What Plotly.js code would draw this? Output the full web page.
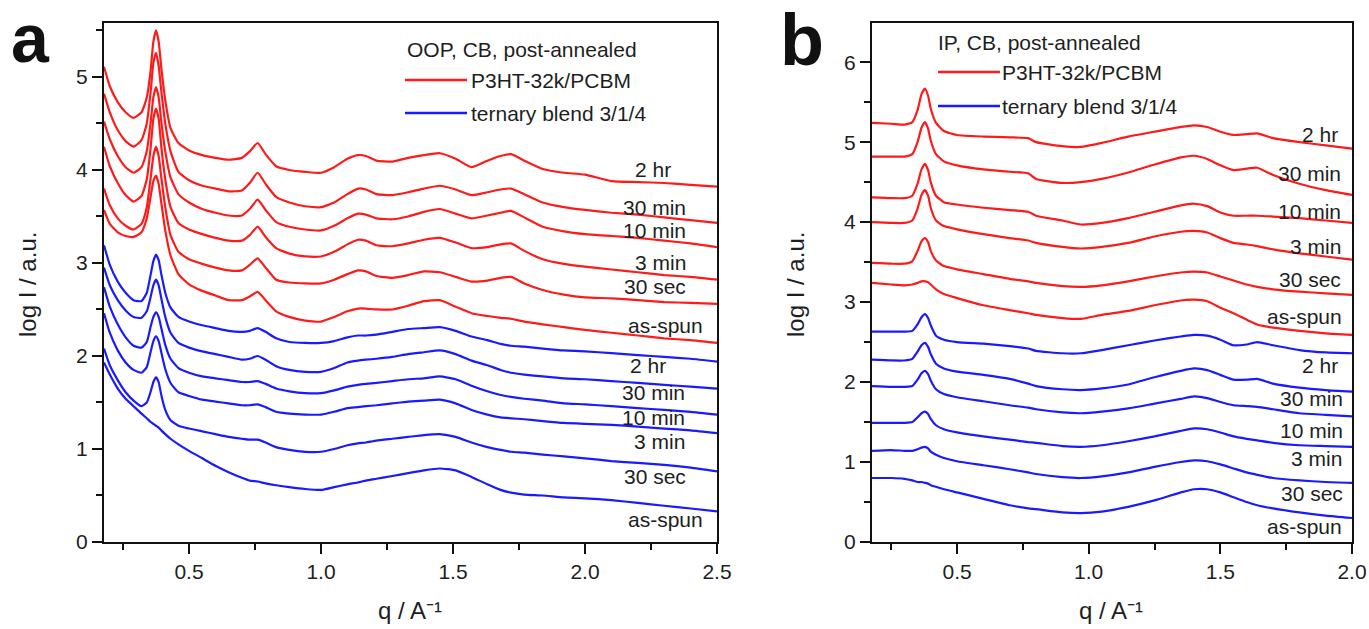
<!DOCTYPE html>
<html>
<head>
<meta charset="utf-8">
<script src="https://cdn.plot.ly/plotly-3.0.1.min.js"></script>
<style>html,body{margin:0;padding:0;background:#fff;}#chart{width:1369px;height:629px;}</style>
</head>
<body>
<div id="chart"></div>
<script>
// ---------------- DATA ----------------
const seriesNames = ["2 hr", "30 min", "10 min", "3 min", "30 sec", "as-spun"];

// Panel a (OOP) q grid
const qA = [0.178,0.20,0.23,0.26,0.29, 0.32,0.34,0.355,0.365,0.375, 0.385,0.395,0.41,0.43,0.46,
            0.50,0.55,0.60,0.65,0.70, 0.73,0.76,0.79,0.83,0.88, 0.94,1.00,1.05,1.10,1.14,
            1.17,1.21,1.27,1.33,1.39, 1.45,1.51,1.57,1.63,1.68, 1.72,1.77,1.84,1.92,2.00,
            2.10,2.20,2.30,2.40,2.50];

const aRed2hr    = [5.11,4.90,4.73,4.62,4.56, 4.62,4.78,5.08,5.38,5.50, 5.38,5.10,4.75,4.45,4.29, 4.21,4.16,4.13,4.11,4.13, 4.20,4.29,4.17,4.04,4.00, 3.98,3.97,4.03,4.12,4.16, 4.15,4.10,4.09,4.13,4.16, 4.18,4.12,4.03,4.10,4.15, 4.17,4.10,4.01,3.97,3.95, 3.88,3.87,3.86,3.84,3.82];
const aRed30min  = [4.82,4.62,4.43,4.31,4.25, 4.32,4.50,4.85,5.15,5.26, 5.12,4.85,4.50,4.20,3.98, 3.89,3.83,3.80,3.77,3.78, 3.86,3.97,3.85,3.71,3.65, 3.61,3.60,3.65,3.74,3.80, 3.79,3.74,3.73,3.76,3.80, 3.83,3.79,3.73,3.76,3.79, 3.80,3.74,3.65,3.60,3.57, 3.54,3.52,3.49,3.46,3.43];
const aRed10min  = [4.52,4.33,4.15,4.03,3.97, 4.03,4.20,4.52,4.78,4.89, 4.78,4.52,4.20,3.92,3.74, 3.65,3.58,3.54,3.51,3.51, 3.58,3.68,3.57,3.44,3.39, 3.36,3.35,3.40,3.48,3.53, 3.52,3.48,3.47,3.50,3.55, 3.58,3.53,3.48,3.51,3.54, 3.56,3.49,3.39,3.34,3.31, 3.29,3.27,3.24,3.21,3.17];
const aRed3min   = [4.25,4.04,3.86,3.73,3.66, 3.72,3.90,4.25,4.55,4.66, 4.55,4.25,3.90,3.60,3.43, 3.36,3.31,3.27,3.24,3.24, 3.30,3.39,3.28,3.16,3.10, 3.07,3.07,3.12,3.20,3.25, 3.24,3.19,3.18,3.21,3.25, 3.27,3.22,3.16,3.17,3.20, 3.21,3.13,3.04,2.99,2.96, 2.93,2.90,2.87,2.85,2.82];
const aRed30sec  = [3.80,3.62,3.48,3.40,3.36, 3.42,3.60,3.92,4.15,4.25, 4.15,3.92,3.60,3.30,3.12, 3.04,2.99,2.95,2.92,2.92, 2.98,3.05,2.95,2.82,2.79, 2.78,2.78,2.82,2.88,2.92, 2.91,2.86,2.84,2.87,2.91, 2.90,2.85,2.80,2.81,2.84, 2.85,2.78,2.71,2.66,2.63, 2.62,2.60,2.58,2.57,2.56];
const aRedAsSpun = [3.57,3.42,3.33,3.29,3.28, 3.33,3.48,3.72,3.88,3.94, 3.85,3.65,3.35,3.08,2.88, 2.77,2.70,2.65,2.60,2.60, 2.64,2.69,2.60,2.48,2.42, 2.38,2.37,2.42,2.48,2.51, 2.51,2.50,2.50,2.54,2.59, 2.60,2.53,2.46,2.43,2.41, 2.40,2.37,2.34,2.31,2.28, 2.25,2.22,2.19,2.17,2.14];

const aBlue2hr    = [3.19,2.98,2.80,2.68,2.60, 2.59,2.68,2.88,3.02,3.09, 3.03,2.88,2.68,2.52,2.42, 2.37,2.33,2.30,2.27,2.26, 2.27,2.30,2.26,2.19,2.15, 2.14,2.14,2.16,2.20,2.22, 2.22,2.23,2.26,2.29,2.30, 2.31,2.27,2.21,2.17,2.13, 2.11,2.10,2.08,2.06,2.05, 2.03,2.01,1.99,1.97,1.94];
const aBlue30min  = [2.95,2.76,2.60,2.49,2.42, 2.41,2.48,2.64,2.76,2.82, 2.76,2.62,2.42,2.25,2.14, 2.09,2.05,2.02,1.99,1.96, 1.97,2.00,1.96,1.89,1.85, 1.83,1.83,1.87,1.93,1.95, 1.96,1.97,1.99,2.02,2.04, 2.06,2.02,1.95,1.90,1.85, 1.82,1.80,1.78,1.76,1.75, 1.73,1.71,1.69,1.67,1.65];
const aBlue10min  = [2.74,2.53,2.34,2.20,2.11, 2.09,2.15,2.32,2.42,2.47, 2.42,2.30,2.12,1.97,1.87, 1.82,1.78,1.76,1.74,1.72, 1.72,1.73,1.70,1.65,1.62, 1.60,1.60,1.63,1.67,1.69, 1.70,1.71,1.73,1.75,1.76, 1.78,1.75,1.68,1.62,1.58, 1.56,1.54,1.52,1.49,1.48, 1.46,1.44,1.42,1.40,1.37];
const aBlue3min   = [2.46,2.25,2.06,1.93,1.85, 1.82,1.88,2.05,2.16,2.21, 2.16,2.04,1.86,1.71,1.61, 1.57,1.53,1.51,1.49,1.47, 1.47,1.48,1.45,1.40,1.38, 1.37,1.37,1.40,1.44,1.45, 1.46,1.47,1.49,1.51,1.52, 1.53,1.49,1.42,1.37,1.34, 1.33,1.32,1.30,1.28,1.27, 1.26,1.24,1.22,1.20,1.17];
const aBlue30sec  = [2.08,1.90,1.74,1.61,1.52, 1.46,1.50,1.62,1.72,1.77, 1.72,1.58,1.42,1.31,1.25, 1.22,1.19,1.16,1.13,1.11, 1.10,1.10,1.07,1.02,0.99, 0.97,0.97,1.00,1.04,1.06, 1.07,1.09,1.11,1.13,1.15, 1.16,1.13,1.07,1.02,0.99, 0.97,0.96,0.94,0.92,0.90, 0.87,0.85,0.83,0.80,0.76];
const aBlueAsSpun = [1.93,1.80,1.65,1.54,1.46, 1.38,1.33,1.29,1.27,1.25, 1.23,1.20,1.16,1.11,1.05, 0.98,0.90,0.82,0.75,0.69, 0.66,0.65,0.63,0.61,0.59, 0.57,0.56,0.59,0.62,0.64, 0.66,0.68,0.71,0.74,0.77, 0.79,0.77,0.70,0.62,0.56, 0.53,0.51,0.50,0.48,0.47, 0.45,0.42,0.39,0.36,0.33];

// Panel b (IP) q grid
const qB = [0.177,0.25,0.30,0.33,0.35, 0.365,0.378,0.39,0.40,0.42, 0.45,0.50,0.60,0.70,0.77,
            0.80,0.90,0.97,1.05,1.15, 1.25,1.35,1.40,1.45,1.50, 1.55,1.60,1.64,1.70,1.80, 1.90,2.00];

const bRed2hr    = [5.24,5.23,5.22,5.25,5.40, 5.60,5.67,5.58,5.42,5.24, 5.14,5.09,5.07,5.06,5.05, 5.00,4.95,4.94,4.99,5.07, 5.13,5.19,5.21,5.19,5.13, 5.09,5.10,5.11,5.05,5.00, 4.96,4.92];
const bRed30min  = [4.82,4.82,4.82,4.85,5.00, 5.18,5.25,5.17,5.02,4.85, 4.76,4.71,4.66,4.63,4.61, 4.54,4.49,4.50,4.54,4.62, 4.72,4.81,4.83,4.79,4.71, 4.65,4.67,4.68,4.59,4.48, 4.40,4.34];
const bRed10min  = [4.31,4.30,4.30,4.33,4.48, 4.66,4.73,4.65,4.50,4.33, 4.25,4.22,4.18,4.15,4.13, 4.08,4.02,3.97,3.99,4.05, 4.13,4.21,4.23,4.20,4.12, 4.08,4.08,4.08,4.07,4.05, 4.02,3.99];
const bRed3min   = [4.00,3.99,3.99,4.02,4.17, 4.34,4.40,4.33,4.18,4.02, 3.95,3.91,3.85,3.80,3.77, 3.74,3.69,3.67,3.69,3.74, 3.82,3.88,3.89,3.87,3.80, 3.74,3.72,3.70,3.66,3.61, 3.57,3.53];
const bRed30sec  = [3.49,3.48,3.48,3.51,3.64, 3.76,3.80,3.75,3.64,3.52, 3.45,3.41,3.35,3.29,3.26, 3.24,3.20,3.19,3.21,3.26, 3.32,3.37,3.38,3.37,3.32, 3.27,3.22,3.19,3.16,3.13, 3.11,3.09];
const bRedAsSpun = [3.24,3.22,3.21,3.22,3.24, 3.26,3.26,3.25,3.22,3.16, 3.10,3.05,2.96,2.90,2.86, 2.84,2.80,2.79,2.84,2.89, 2.96,3.02,3.03,3.01,2.93, 2.86,2.78,2.72,2.68,2.64, 2.61,2.59];

const bBlue2hr    = [2.63,2.63,2.63,2.64,2.72, 2.81,2.85,2.80,2.71,2.58, 2.53,2.50,2.48,2.45,2.42, 2.39,2.36,2.36,2.40,2.46, 2.52,2.57,2.59,2.58,2.53, 2.46,2.47,2.50,2.46,2.40, 2.37,2.36];
const bBlue30min  = [2.28,2.27,2.27,2.29,2.38, 2.46,2.49,2.44,2.35,2.23, 2.17,2.13,2.09,2.04,1.98, 1.95,1.91,1.90,1.92,1.97, 2.06,2.14,2.17,2.15,2.09, 2.03,2.03,2.04,1.98,1.93, 1.90,1.88];
const bBlue10min  = [1.95,1.94,1.94,1.95,2.03, 2.11,2.14,2.10,2.02,1.91, 1.85,1.81,1.76,1.71,1.68, 1.66,1.62,1.61,1.63,1.67, 1.73,1.79,1.82,1.80,1.75, 1.71,1.70,1.69,1.66,1.61, 1.59,1.57];
const bBlue3min   = [1.49,1.49,1.49,1.50,1.56, 1.61,1.63,1.60,1.54,1.46, 1.41,1.37,1.32,1.28,1.25, 1.24,1.20,1.19,1.21,1.26, 1.32,1.39,1.42,1.41,1.37, 1.32,1.29,1.27,1.24,1.21, 1.20,1.19];
const bBlue30sec  = [1.14,1.15,1.14,1.14,1.16, 1.18,1.19,1.17,1.13,1.09, 1.05,1.01,0.96,0.91,0.87, 0.85,0.81,0.80,0.82,0.87, 0.94,1.00,1.02,1.01,0.97, 0.92,0.87,0.84,0.80,0.77, 0.75,0.74];
const bBlueAsSpun = [0.80,0.80,0.79,0.77,0.75, 0.75,0.74,0.73,0.71,0.69, 0.66,0.62,0.54,0.46,0.42, 0.41,0.37,0.36,0.38,0.44, 0.52,0.62,0.66,0.66,0.62, 0.56,0.50,0.46,0.42,0.37, 0.33,0.30];

// Texts
const legendTitleA = "OOP, CB, post-annealed";
const legendTitleB = "IP, CB, post-annealed";
const legendRed = "P3HT-32k/PCBM";
const legendBlue = "ternary blend 3/1/4";
const yTitle = "log I / a.u.";
const xTitle = "q / A\u207B\u00B9";

// ---------------- LAYOUT / STYLE ----------------
const W = 1369, H = 629;
const FONT = 'Arial, "Liberation Sans", Helvetica, sans-serif';
const TXT = '#1e1e1e';
const RED = '#ff1a1a', BLUE = '#1a1aff';
const px = x => x / W;
const py = y => 1 - y / H;

const redA = [aRed2hr, aRed30min, aRed10min, aRed3min, aRed30sec, aRedAsSpun];
const blueA = [aBlue2hr, aBlue30min, aBlue10min, aBlue3min, aBlue30sec, aBlueAsSpun];
const redB = [bRed2hr, bRed30min, bRed10min, bRed3min, bRed30sec, bRedAsSpun];
const blueB = [bBlue2hr, bBlue30min, bBlue10min, bBlue3min, bBlue30sec, bBlueAsSpun];

const traces = [];
function addSet(q, sets, color, xa, ya) {
  sets.forEach((ys, i) => {
    traces.push({
      type: 'scatter', mode: 'lines', x: q, y: ys, xaxis: xa, yaxis: ya,
      name: seriesNames[i], showlegend: false, hoverinfo: 'skip',
      line: {color: color, width: 2.2, shape: 'spline', smoothing: 0.5}
    });
  });
}
addSet(qA, redA, RED, 'x', 'y');
addSet(qA, blueA, BLUE, 'x', 'y');
addSet(qB, redB, RED, 'x2', 'y2');
addSet(qB, blueB, BLUE, 'x2', 'y2');

function axisBase() {
  return {
    showline: true, linecolor: '#111', linewidth: 2, mirror: true,
    ticks: 'outside', ticklen: 10, tickwidth: 2, tickcolor: '#111',
    showgrid: false, zeroline: false, fixedrange: true,
    tickfont: {family: FONT, size: 21, color: TXT}
  };
}
function minorAx(d) {
  return {ticks: 'outside', ticklen: 6, tickwidth: 2, tickcolor: '#111', dtick: d, tick0: 0, showgrid: false};
}
const xA = Object.assign(axisBase(), {domain: [px(104), px(717)], range: [0.178, 2.5], dtick: 0.5, tick0: 0, tickformat: '.1f', anchor: 'y', minor: minorAx(0.25)});
const yA = Object.assign(axisBase(), {domain: [py(542), py(23)], range: [0, 5.58], dtick: 1, tick0: 0, anchor: 'x', minor: minorAx(0.5)});
const xB = Object.assign(axisBase(), {domain: [px(872), px(1352)], range: [0.177, 2.0], dtick: 0.5, tick0: 0, tickformat: '.1f', anchor: 'y2', minor: minorAx(0.25)});
const yB = Object.assign(axisBase(), {domain: [py(542), py(23)], range: [0, 6.49], dtick: 1, tick0: 0, anchor: 'x2', minor: minorAx(0.5)});

const ann = [];
function paperText(text, x, y, size, opts) {
  ann.push(Object.assign({xref: 'paper', yref: 'paper', x: px(x), y: py(y), text: text, showarrow: false,
    font: {family: FONT, size: size, color: TXT}, xanchor: 'center', yanchor: 'middle'}, opts || {}));
}
// panel letters
paperText('a', 30, 38, 68, {font: {family: FONT, size: 68, color: '#111', weight: 'bold'}});
paperText('b', 802, 40, 72, {font: {family: FONT, size: 72, color: '#111', weight: 'bold'}});
// axis titles
paperText(yTitle, 27, 285, 24, {textangle: -90});
paperText(yTitle, 795, 285, 24, {textangle: -90});
paperText(xTitle, 410, 610, 24);
paperText(xTitle, 1111, 610, 24);
// legend blocks
paperText(legendTitleA, 405, 50, 21, {xanchor: 'left'});
paperText(legendRed, 469, 81, 21, {xanchor: 'left'});
paperText(legendBlue, 469, 114, 21, {xanchor: 'left'});
paperText(legendTitleB, 936, 42, 21, {xanchor: 'left'});
paperText(legendRed, 1000, 72, 21, {xanchor: 'left'});
paperText(legendBlue, 1000, 106, 21, {xanchor: 'left'});

const shapes = [
  {type: 'line', xref: 'paper', yref: 'paper', x0: px(405), x1: px(467), y0: py(80), y1: py(80), line: {color: RED, width: 2.5}},
  {type: 'line', xref: 'paper', yref: 'paper', x0: px(405), x1: px(467), y0: py(113), y1: py(113), line: {color: BLUE, width: 2.5}},
  {type: 'line', xref: 'paper', yref: 'paper', x0: px(938), x1: px(1000), y0: py(72), y1: py(72), line: {color: RED, width: 2.5}},
  {type: 'line', xref: 'paper', yref: 'paper', x0: px(938), x1: px(1000), y0: py(106), y1: py(106), line: {color: BLUE, width: 2.5}}
];

// curve labels, right-aligned near the right end of each curve
const labelPosA = {
  red:  [[2.333, 4.00], [2.390, 3.60], [2.390, 3.35], [2.390, 3.01], [2.390, 2.75], [2.455, 2.33]],
  blue: [[2.314, 1.90], [2.386, 1.61], [2.386, 1.34], [2.386, 1.08], [2.390, 0.70], [2.455, 0.24]]
};
const labelPosB = {
  red:  [[1.956, 5.09], [1.964, 4.61], [1.964, 4.13], [1.964, 3.69], [1.964, 3.28], [1.968, 2.82]],
  blue: [[1.956, 2.21], [1.975, 1.80], [1.975, 1.40], [1.968, 1.04], [1.975, 0.61], [1.968, 0.19]]
};
function addLabels(pos, xr, yr) {
  ['red', 'blue'].forEach(k => pos[k].forEach((p, i) => {
    ann.push({xref: xr, yref: yr, x: p[0], y: p[1], text: seriesNames[i], showarrow: false,
      xanchor: 'right', yanchor: 'middle', font: {family: FONT, size: 21, color: TXT}});
  }));
}
addLabels(labelPosA, 'x', 'y');
addLabels(labelPosB, 'x2', 'y2');

const layout = {
  width: W, height: H, margin: {l: 0, r: 0, t: 0, b: 0},
  paper_bgcolor: '#fff', plot_bgcolor: '#fff', showlegend: false,
  xaxis: xA, yaxis: yA, xaxis2: xB, yaxis2: yB,
  annotations: ann, shapes: shapes
};
Plotly.newPlot('chart', traces, layout, {staticPlot: true, displayModeBar: false});
</script>
</body>
</html>
